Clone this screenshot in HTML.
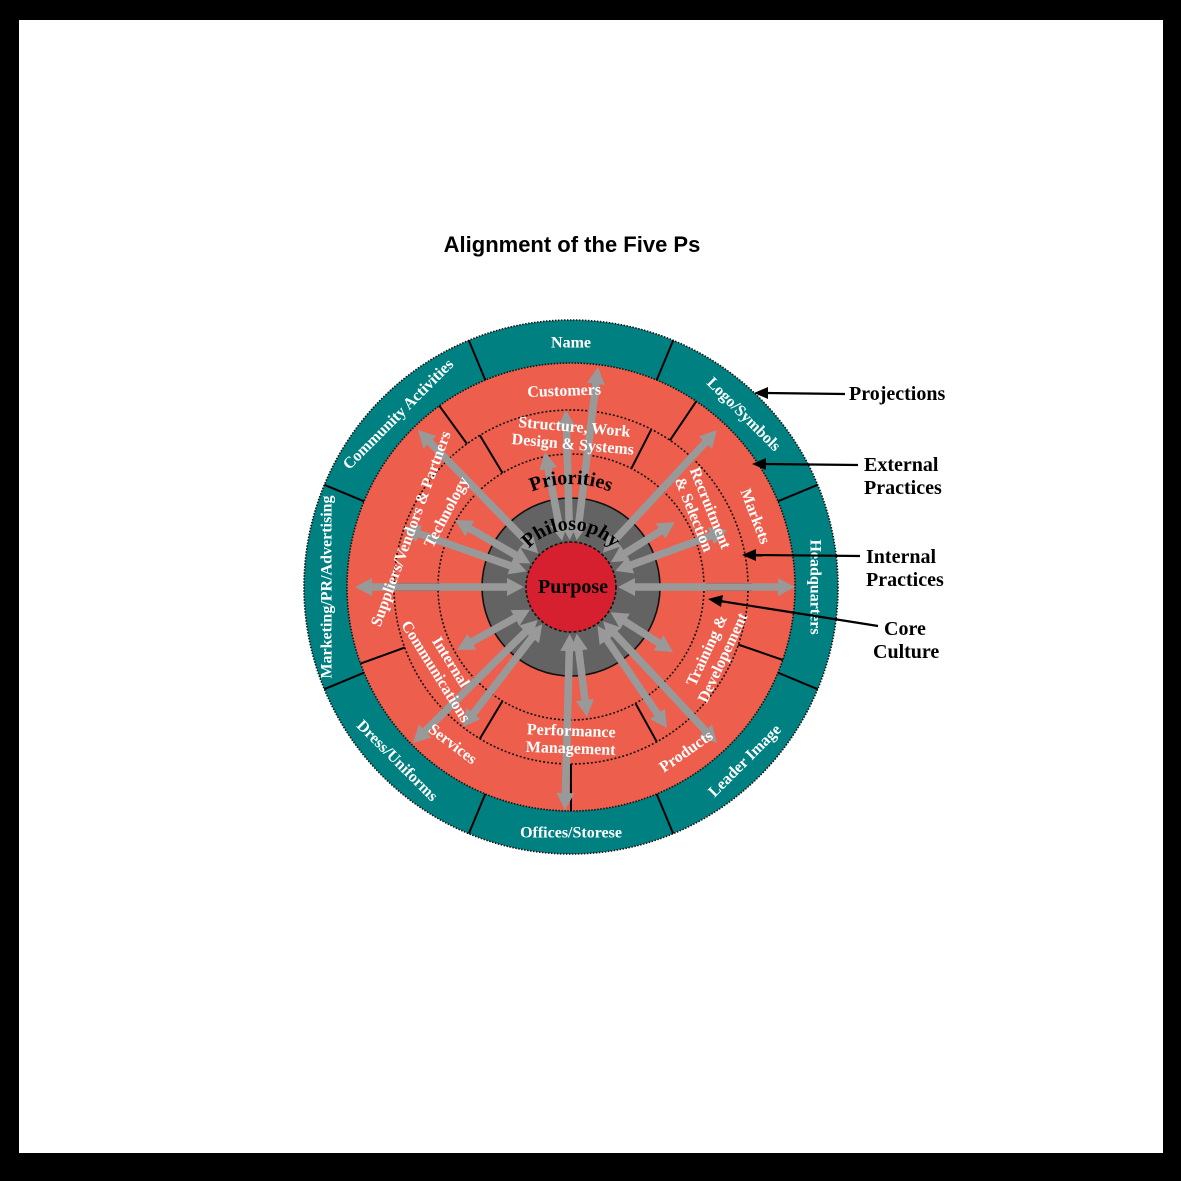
<!DOCTYPE html>
<html><head><meta charset="utf-8"><style>
html,body{margin:0;padding:0;background:#000;}
svg{display:block}
</style></head><body>
<svg id="s" width="1181" height="1181" viewBox="0 0 1181 1181" xmlns="http://www.w3.org/2000/svg">
<rect x="0" y="0" width="1181" height="1181" fill="#000"/>
<rect x="19" y="20" width="1144" height="1133" fill="#fff"/>
<text x="572" y="252" font-family="Liberation Sans, sans-serif" font-weight="bold" font-size="22" text-anchor="middle">Alignment of the Five Ps</text>
<g id="wheel"></g>
<g font-family="Liberation Serif, serif" font-weight="bold" font-size="20" fill="#000">
<text x="849" y="400">Projections</text>
<text x="864" y="471">External</text><text x="864" y="494">Practices</text>
<text x="866" y="563">Internal</text><text x="866" y="586">Practices</text>
<text x="884" y="635">Core</text><text x="873" y="658">Culture</text>
</g>
<g stroke="#000" stroke-width="2.2" fill="#000">
<line x1="845" y1="394" x2="766" y2="393"/><polygon points="754,393 768,387 768,399" stroke="none"/>
<line x1="858" y1="465" x2="764" y2="464"/><polygon points="752,464 766,458 766,470" stroke="none"/>
<line x1="860" y1="556" x2="754" y2="555"/><polygon points="742,555 756,549 756,561" stroke="none"/>
<line x1="878" y1="626" x2="720" y2="601"/><polygon points="708,599 723,595 721,607" stroke="none"/>
</g>
</svg>
<script>
const NS="http://www.w3.org/2000/svg",g=document.getElementById('wheel');
const cx=571,cy=587;
function el(t,a,p){const e=document.createElementNS(NS,t);for(const k in a)e.setAttribute(k,a[k]);(p||g).appendChild(e);return e;}
function pt(r,a){a=a*Math.PI/180;return [cx+r*Math.sin(a),cy-r*Math.cos(a)];}
function circ(r,fill,dash){el('circle',{cx,cy,r,fill,stroke:'#111','stroke-width':1.6,'stroke-dasharray':dash||'none'});}
circ(267,'#008080','1.5 1.5');
circ(224,'#EE5E4C','1.5 1.5');
circ(177,'#EE5E4C','2 2');
circ(133,'#EE5E4C','2 2');
circ(89,'#636363','none');
circ(45,'#D7202F','3 2');
function rl(r1,r2,a){const p=pt(r1,a),q=pt(r2,a);el('line',{x1:p[0],y1:p[1],x2:q[0],y2:q[1],stroke:'#000','stroke-width':2});}
[22.5,67.5,112.5,157.5,202.5,247.5,292.5,337.5].forEach(a=>rl(224,267,a));
[-36,34,109,180,-110].forEach(a=>rl(177,224,a));
[-31,27,151,-149].forEach(a=>rl(133,177,a));
[[706,752],[396,440]].forEach(([a,b])=>{el('line',{x1:a,y1:584,x2:b,y2:584,stroke:'#000','stroke-width':1.5});el('line',{x1:a,y1:590,x2:b,y2:590,stroke:'#000','stroke-width':1.5});});
const ends=[[598,367],[566,410],[545,452],[418,430],[403,528],[455,520],[355,587],[717,430],[675,522],[727,530],[795,587],[457,650],[413,743],[463,727],[587,717],[565,810],[667,728],[717,743],[673,652]];
const ag=el('g',{fill:'#999',stroke:'none'});
function head(x,y,ux,uy){const L=17,W=9;const bx=x-ux*L,by=y-uy*L;el('polygon',{points:`${x},${y} ${bx-uy*W},${by+ux*W} ${bx+uy*W},${by-ux*W}`},ag);}
ends.forEach(([ex,ey])=>{let dx=ex-cx,dy=ey-cy;const d=Math.hypot(dx,dy);const ux=dx/d,uy=dy/d;
const sx=cx+ux*47,sy=cy+uy*47;
el('line',{x1:sx+ux*14,y1:sy+uy*14,x2:ex-ux*14,y2:ey-uy*14,stroke:'#999','stroke-width':7.5},ag);
head(ex,ey,ux,uy);head(sx,sy,-ux,-uy);});
function lab(txt,r,a,size,fill,rot,dy){const p=pt(r,a);const t=el('text',{x:0,y:0,transform:`translate(${p[0]},${p[1]}) rotate(${rot})`,'font-family':'Liberation Serif, serif','font-weight':'bold','font-size':size,fill,'text-anchor':'middle'});
const lines=txt.split('|');lines.forEach((l,i)=>{const s=el('tspan',{x:0,dy:i==0?((dy||0)+size*0.35-(lines.length-1)*size*0.55):size*1.1},t);s.textContent=l;});}
function rot(a){let b=((a%360)+360)%360;return (b>90.1&&b<269.9)?b-180:a;}
[['Name',0],['Logo/Symbols',45],['Headquarters',90],['Leader Image',135],['Offices/Storese',180],['Dress/Uniforms',225],['Marketing/PR/Advertising',270],['Community Activities',315]].forEach(([t,a])=>lab(t,245,a,16,'#fff',rot(a)));
lab('Customers',197,-2,16,'#fff',-2);
lab('Markets',198,69,16,'#fff',69);
lab('Suppliers/Vendors & Partners',171,-70,16,'#fff',-70);
lab('Services',196,217,16,'#fff',37);
lab('Products',200,145,16,'#fff',-35);
lab('Structure, Work|Design & Systems',152,1,16,'#fff',5);
lab('Recruitment|& Selection',152,60,16,'#fff',68);
lab('Technology',146,-59,16,'#fff',-62);
lab('Internal|Communications',150,238,16,'#fff',58);
lab('Training &|Developement',158,115,16,'#fff',-65);
lab('Performance|Management',152,180,16,'#fff',2);
const defs=el('defs',{});
function arcPath(id,r){const p=pt(r,-60),q=pt(r,60);el('path',{id,d:`M${p[0]},${p[1]} A${r},${r} 0 0 1 ${q[0]},${q[1]}`,fill:'none'},defs);}
arcPath('pr',103);arcPath('ph',57);
[['pr','Priorities'],['ph','Philosophy']].forEach(([id,t])=>{const tx=el('text',{'font-family':'Liberation Serif, serif','font-weight':'bold','font-size':20,fill:'#000'});const tp=el('textPath',{href:'#'+id,startOffset:'50%','text-anchor':'middle'},tx);tp.textContent=t;});
const pu=el('text',{x:cx+2,y:cy+6,'font-family':'Liberation Serif, serif','font-weight':'bold','font-size':20,fill:'#000','text-anchor':'middle'});pu.textContent='Purpose';
</script>
</body></html>
